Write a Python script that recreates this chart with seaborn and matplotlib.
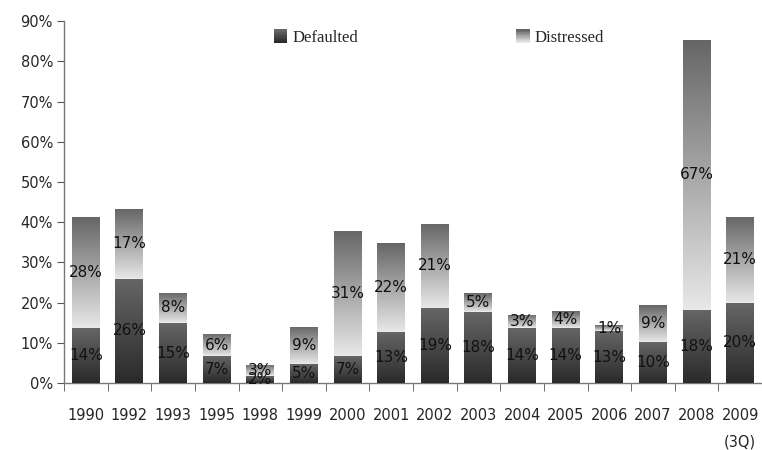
import numpy as np
import pandas as pd
import matplotlib
matplotlib.use("Agg")
import matplotlib.pyplot as plt
import seaborn as sns
from matplotlib.colors import LinearSegmentedColormap, to_rgb
from matplotlib.patches import Rectangle
from matplotlib.legend_handler import HandlerBase

years = ["1990", "1992", "1993", "1995", "1998", "1999", "2000", "2001",
         "2002", "2003", "2004", "2005", "2006", "2007", "2008", "2009\n(3Q)"]
defaulted = [13.6, 25.9, 14.9, 6.6, 1.7, 4.6, 6.6, 12.7,
             18.7, 17.6, 13.6, 13.7, 12.9, 10.2, 18.2, 19.9]
distressed = [27.6, 17.4, 7.6, 5.6, 2.8, 9.3, 31.2, 22.1,
              20.9, 4.7, 3.4, 4.2, 1.4, 9.2, 67.1, 21.4]

# gradient colours (bottom, top)
def_cols = ("#2a2a2a", "#666666")
dis_cols = ("#e8e8e8", "#666666")

df = pd.DataFrame({"year": years, "Defaulted": defaulted, "Distressed": distressed})
df["total"] = df["Defaulted"] + df["Distressed"]

sns.set_style("ticks")
plt.rcParams["font.family"] = ["DejaVu Sans"]
fig = plt.figure(figsize=(7.62, 4.5), dpi=100)
ax = fig.add_axes([0.084, 0.149, 0.916, 0.804])

sns.barplot(data=df, x="year", y="total", order=years, color="#999999",
            width=0.64, zorder=1, ax=ax, errorbar=None)
sns.barplot(data=df, x="year", y="Defaulted", order=years, color="#444444",
            width=0.64, zorder=3, ax=ax, errorbar=None)

tot_patches = ax.patches[:len(years)]
def_patches = ax.patches[len(years):2 * len(years)]


def gradient(patch, y0, y1, cols, z):
    cmap = LinearSegmentedColormap.from_list("g", list(cols))
    g = np.linspace(0, 1, 256).reshape(-1, 1)
    x0 = patch.get_x()
    im = ax.imshow(g, extent=[x0, x0 + patch.get_width(), y0, y1], origin="lower",
                   cmap=cmap, aspect="auto", zorder=z, interpolation="bilinear")
    im.set_clip_path(patch)


for tp, dp, d, s in zip(tot_patches, def_patches, defaulted, distressed):
    gradient(tp, dp.get_height(), tp.get_height(), dis_cols, 2)
    gradient(dp, 0, dp.get_height(), def_cols, 4)
    cx = dp.get_x() + dp.get_width() / 2
    ax.text(cx, d / 2, f"{d:.0f}%", ha="center", va="center", fontsize=11,
            color="#111111", zorder=6)
    ax.text(cx, d + s / 2, f"{s:.0f}%", ha="center", va="center", fontsize=11,
            color="#111111", zorder=6)

ax.set_xlim(-0.5, len(years) - 0.5)
ax.set_ylim(0, 90)
ax.set_yticks(range(0, 91, 10))
ax.set_yticklabels([f"{v}%" for v in range(0, 91, 10)], fontsize=10.5)
ax.set_xticks(range(len(years)))
ax.set_xticklabels(years, fontsize=10.5, linespacing=2.0, va="top")
ax.set_xticks(np.arange(-0.5, len(years), 1), minor=True)
ax.tick_params(axis="x", which="major", length=0, pad=18)
ax.tick_params(axis="x", which="minor", length=6, color="#555555", direction="out")
ax.tick_params(axis="y", length=5, color="#555555", pad=3)
ax.set_xlabel("")
ax.set_ylabel("")
sns.despine(ax=ax)
for sp in ["left", "bottom"]:
    ax.spines[sp].set_color("#777777")
    ax.spines[sp].set_linewidth(1.0)


class GradHandler(HandlerBase):
    def __init__(self, cols):
        super().__init__()
        self.cols = cols

    def create_artists(self, legend, orig_handle, xdescent, ydescent, width,
                       height, fontsize, trans):
        b, t = np.array(to_rgb(self.cols[0])), np.array(to_rgb(self.cols[1]))
        n = 16
        arts = []
        for i in range(n):
            f = i / (n - 1)
            arts.append(Rectangle((-xdescent, -ydescent + i * height / n), width,
                                  height / n + 0.3, facecolor=b + (t - b) * f,
                                  edgecolor="none", transform=trans))
        return arts


h1 = Rectangle((0, 0), 1, 1)
h2 = Rectangle((0, 0), 1, 1)
fig.legend([h1, h2], ["Defaulted", "Distressed"], ncol=2, frameon=False,
           loc="center left", bbox_to_anchor=(274 / 762, 1 - 38 / 450),
           borderpad=0, borderaxespad=0, handlelength=0.8, handleheight=0.8,
           handletextpad=0.3, columnspacing=9.5,
           prop={"family": "Liberation Serif", "size": 12},
           handler_map={h1: GradHandler(def_cols), h2: GradHandler(dis_cols)})

fig.savefig("out.png", dpi=100)
